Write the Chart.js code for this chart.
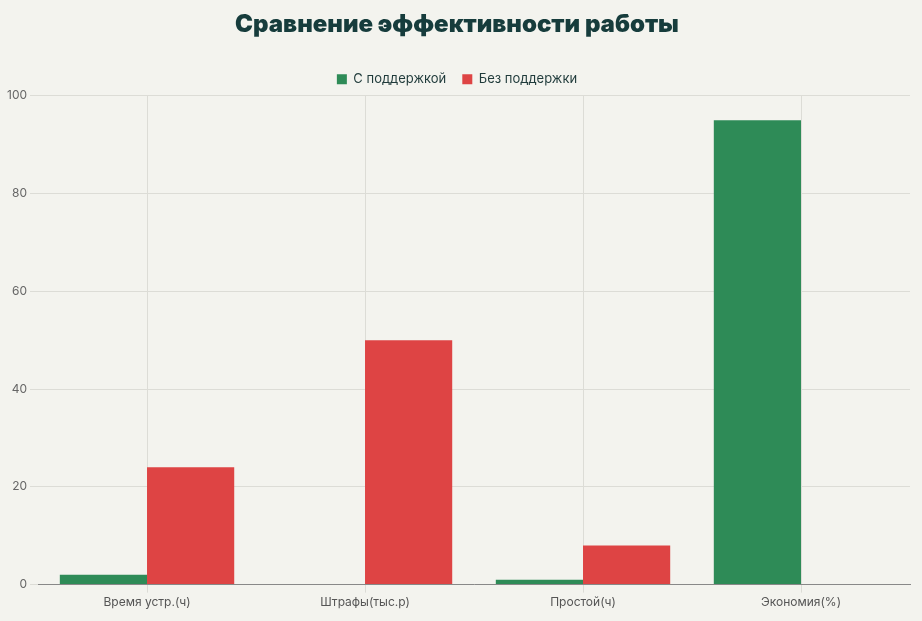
<!DOCTYPE html>
<html><head><meta charset="utf-8">
<script src="https://cdn.jsdelivr.net/npm/chart.js"></script>
<style>html,body{margin:0;background:#f3f3ee;}#w{width:922px;height:621px;}</style>
</head><body><div id="w"><canvas id="c"></canvas></div>
<script>
const categories = ["Время устр.(ч)", "Штрафы(тыс.р)", "Простой(ч)", "Экономия(%)"];
const withSupport = [2, 0, 1, 95];
const withoutSupport = [24, 50, 8, 0];
const yTicksMax = 100;
new Chart(document.getElementById('c'), {
  type: 'bar',
  data: { labels: categories, datasets: [
    { label: 'С поддержкой', data: withSupport, backgroundColor: '#2e8b57' },
    { label: 'Без поддержки', data: withoutSupport, backgroundColor: '#de4444' }
  ]},
  options: {
    responsive: true, maintainAspectRatio: false, animation: false,
    layout: { padding: { left: 4, right: 12, bottom: 8, top: 4 } },
    datasets: { bar: { categoryPercentage: 0.8, barPercentage: 1.0 } },
    plugins: {
      title: { display: true, text: 'Сравнение эффективности работы', color: '#163c3c',
        font: { family: 'Inter', size: 24, weight: '900' }, padding: { top: 6, bottom: 18 } },
      legend: { labels: { usePointStyle: true, pointStyle: 'rect', boxWidth: 10, boxHeight: 10,
        color: '#1f3a3a', font: { family: 'Inter', size: 13 }, padding: 16 } }
    },
    scales: {
      x: { grid: { offset: false, color: '#dcdcd6' }, border: { color: '#888' },
        ticks: { color: '#555', font: { family: 'Inter', size: 12 } } },
      y: { min: 0, max: yTicksMax, ticks: { stepSize: 20, color: '#666', font: { family: 'Inter', size: 12 } },
        grid: { color: '#dcdcd6' }, border: { display: false } }
    }
  }
});
</script></body></html>
